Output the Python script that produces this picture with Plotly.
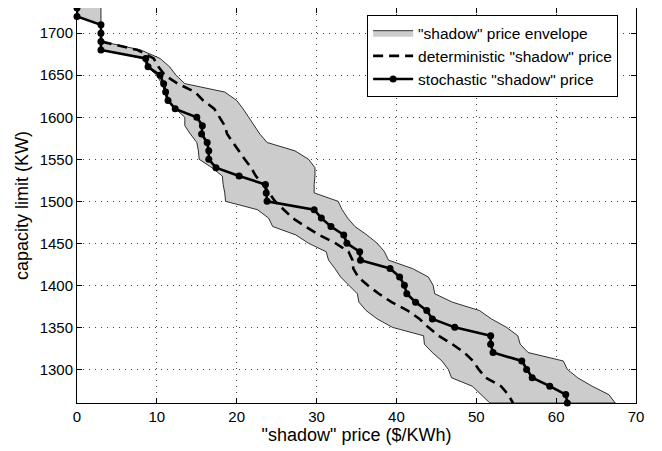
import plotly.graph_objects as go

# capacity levels (KW)
capacity = [1730, 1720, 1710, 1700, 1690, 1680, 1670, 1660, 1650, 1640, 1630, 1620,
            1610, 1600, 1590, 1580, 1570, 1560, 1550, 1540, 1530, 1520, 1510, 1500,
            1490, 1480, 1470, 1460, 1450, 1440, 1430, 1420, 1410, 1400, 1390, 1380,
            1370, 1360, 1350, 1340, 1330, 1320, 1310, 1300, 1290, 1280, 1270, 1260]

# stochastic "shadow" price
stochastic = [0, 0, 3.0, 3.0, 3.0, 3.0, 8.6, 8.9, 10.4, 10.85, 11.1, 11.4,
              12.3, 15.0, 15.7, 15.6, 16.3, 16.5, 16.5, 17.4, 20.3, 23.6, 23.7, 23.8,
              29.7, 30.6, 31.8, 33.4, 33.8, 35.4, 35.5, 39.2, 40.4, 41.0, 41.3, 42.4,
              43.8, 44.5, 47.3, 51.8, 51.8, 52.1, 55.7, 56.3, 57.0, 59.2, 61.2, 61.4]

# envelope boundaries
env_upper = [3.0, 3.0, 3.0, 3.0, 3.2, 8.0, 10.4, 11.6, 12.4, 13.5, 18.5, 20.0,
             20.8, 21.5, 22.3, 22.9, 23.8, 27.3, 29.0, 29.8, 29.8, 29.7, 29.7, 32.7,
             33.2, 33.9, 34.8, 36.3, 37.6, 38.5, 39.0, 42.0, 44.0, 44.6, 44.8, 47.0,
             50.4, 51.9, 53.8, 55.2, 55.5, 56.5, 60.9, 61.4, 62.7, 64.5, 66.6, 67.4]
env_lower = [0, 0, 3.0, 3.0, 3.0, 3.0, 8.3, 8.8, 10.0, 10.6, 11.0, 11.2,
             12.3, 13.5, 13.5, 14.2, 15.0, 15.2, 15.3, 16.9, 18.2, 18.3, 18.5, 18.6,
             22.6, 24.0, 24.5, 27.4, 29.0, 31.2, 31.5, 32.3, 33.0, 34.0, 35.1, 35.3,
             36.2, 37.6, 39.5, 43.4, 43.5, 44.5, 45.7, 46.5, 46.9, 49.5, 50.6, 51.7]

# deterministic "shadow" price
det_capacity = [1690, 1680, 1670, 1660, 1650, 1640, 1630, 1620, 1610, 1600, 1590, 1580,
                1570, 1560, 1550, 1540, 1530, 1520, 1510, 1500, 1490, 1480, 1470, 1460,
                1450, 1440, 1430, 1420, 1410, 1400, 1390, 1380, 1370, 1360, 1350, 1340,
                1330, 1320, 1310, 1300, 1290, 1280, 1270, 1260]
deterministic = [3.1, 7.6, 9.6, 10.2, 11.0, 12.6, 14.8, 15.8, 17.2, 17.9, 18.5, 18.8,
                 19.5, 20.3, 21.0, 21.8, 22.4, 23.3, 24.0, 24.8, 25.9, 27.0, 28.6, 30.3,
                 32.4, 34.0, 34.5, 34.6, 35.2, 36.4, 37.8, 39.4, 41.4, 42.9, 44.0, 45.3,
                 47.0, 48.5, 49.6, 50.3, 51.2, 53.1, 54.0, 54.6]

x_ticks = [0, 10, 20, 30, 40, 50, 60, 70]
y_ticks = [1300, 1350, 1400, 1450, 1500, 1550, 1600, 1650, 1700]

FONT = "Liberation Sans, Arial, Helvetica, sans-serif"

fig = go.Figure()

fig.add_trace(go.Scatter(
    x=env_upper + env_lower[::-1],
    y=capacity + capacity[::-1],
    fill="toself", fillcolor="#cccccc",
    line=dict(color="black", width=0.8),
    mode="lines", name='"shadow" price envelope',
))
fig.add_trace(go.Scatter(
    x=deterministic, y=det_capacity, mode="lines",
    line=dict(color="black", width=2.6, dash="10px,6px"),
    name='deterministic "shadow" price',
))
fig.add_trace(go.Scatter(
    x=stochastic, y=capacity, mode="lines+markers",
    line=dict(color="black", width=2.6),
    marker=dict(color="black", size=7),
    cliponaxis=False,
    name='stochastic "shadow" price',
))

axis_common = dict(
    showline=True, linecolor="black", linewidth=1, mirror="ticks",
    ticks="inside", ticklen=5, tickcolor="black", tickwidth=1,
    showgrid=True, gridcolor="#444444", griddash="1px,5px", gridwidth=1,
    zeroline=False, automargin=False,
    tickfont=dict(family=FONT, size=15, color="black"),
)

fig.update_xaxes(range=[0, 70], tickvals=x_ticks,
                 title=dict(text='"shadow" price ($/KWh)', standoff=0,
                            font=dict(family=FONT, size=18, color="black")),
                 **axis_common)
fig.update_yaxes(range=[1260, 1730], tickvals=y_ticks,
                 title=dict(text="capacity limit (KW)", standoff=6,
                            font=dict(family=FONT, size=18, color="black")),
                 **axis_common)

# the page body adds an 8px offset, so the figure is sized to sit in the window
fig.update_layout(
    width=654, height=443,
    margin=dict(l=69, r=26, t=0, b=48),
    paper_bgcolor="white", plot_bgcolor="white",
    font=dict(family=FONT, color="black"),
    legend=dict(x=0.519, y=0.982, xanchor="left", yanchor="top",
                bgcolor="white", bordercolor="black", borderwidth=1,
                font=dict(family=FONT, size=15.5, color="black"),
                tracegroupgap=0, itemwidth=40),
)

fig.write_html("out.html")
